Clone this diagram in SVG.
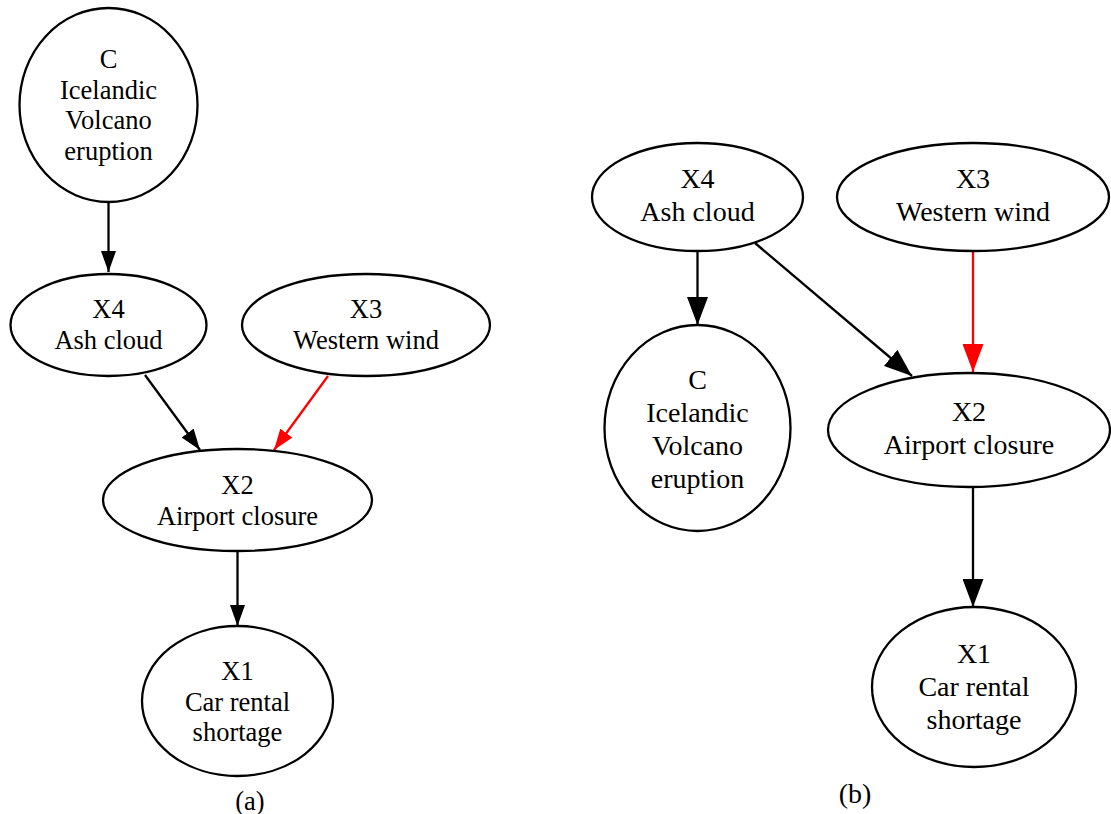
<svg xmlns="http://www.w3.org/2000/svg" width="1111" height="814" viewBox="0 0 1111 814">
<style>
.n{fill:#fff;stroke:#000;stroke-width:2.3}
.t{font-family:"Liberation Serif","Times New Roman",serif;text-anchor:middle;fill:#000}
.a{font-size:26.5px}
.b{font-size:28px}
.e{fill:none;stroke:#000;stroke-width:2.3}
.r{stroke:#ff0000}
</style>
<defs>
<marker id="ah" viewBox="0 0 10 10" refX="10" refY="5" markerWidth="21" markerHeight="15" orient="auto" markerUnits="userSpaceOnUse" preserveAspectRatio="none"><path d="M0,0L10,5L0,10z" fill="#000"/></marker>
<marker id="ahr" viewBox="0 0 10 10" refX="10" refY="5" markerWidth="21" markerHeight="15" orient="auto" markerUnits="userSpaceOnUse" preserveAspectRatio="none"><path d="M0,0L10,5L0,10z" fill="#ff0000"/></marker>
<marker id="bh" viewBox="0 0 10 10" refX="10" refY="5" markerWidth="28" markerHeight="21" orient="auto" markerUnits="userSpaceOnUse" preserveAspectRatio="none"><path d="M0,0L10,5L0,10z" fill="#000"/></marker>
<marker id="bhr" viewBox="0 0 10 10" refX="10" refY="5" markerWidth="28" markerHeight="21" orient="auto" markerUnits="userSpaceOnUse" preserveAspectRatio="none"><path d="M0,0L10,5L0,10z" fill="#ff0000"/></marker>
</defs>
<rect width="1111" height="814" fill="#fff"/>
<g id="connectors">
<line class="e" x1="108.5" y1="202" x2="108.5" y2="272" marker-end="url(#ah)"/>
<line class="e" x1="145" y1="375" x2="200" y2="450" marker-end="url(#ah)"/>
<line class="e r" x1="328" y1="376" x2="274" y2="450" marker-end="url(#ahr)"/>
<line class="e" x1="237.5" y1="551" x2="237.5" y2="626" marker-end="url(#ah)"/>
<line class="e" x1="697.5" y1="251" x2="697.5" y2="325" marker-end="url(#bh)"/>
<line class="e" x1="755" y1="243" x2="912" y2="376" marker-end="url(#bh)"/>
<line class="e r" x1="973" y1="251" x2="973" y2="372" marker-end="url(#bhr)"/>
<line class="e" x1="973" y1="487" x2="973" y2="607" marker-end="url(#bh)"/>
</g>
<g id="a-C"><ellipse class="n" cx="108.5" cy="105" rx="89" ry="97"/>
<text class="t a" x="108.5" y="68">C</text><text class="t a" x="108.5" y="98.5">Icelandic</text><text class="t a" x="108.5" y="129">Volcano</text><text class="t a" x="108.5" y="159.5">eruption</text></g>
<g id="a-X4"><ellipse class="n" cx="108.5" cy="325" rx="98" ry="51"/>
<text class="t a" x="108.5" y="318">X4</text><text class="t a" x="108.5" y="348.5">Ash cloud</text></g>
<g id="a-X3"><ellipse class="n" cx="366" cy="325" rx="124" ry="51"/>
<text class="t a" x="366" y="318">X3</text><text class="t a" x="366" y="348.5">Western wind</text></g>
<g id="a-X2"><ellipse class="n" cx="237.5" cy="500" rx="134.5" ry="51"/>
<text class="t a" x="237.5" y="494">X2</text><text class="t a" x="237.5" y="524.5">Airport closure</text></g>
<g id="a-X1"><ellipse class="n" cx="237.5" cy="701" rx="95.5" ry="75"/>
<text class="t a" x="237.5" y="680">X1</text><text class="t a" x="237.5" y="710.5">Car rental</text><text class="t a" x="237.5" y="741">shortage</text></g>
<text class="t a" x="250" y="810">(a)</text>
<g id="b-X4"><ellipse class="n" cx="697.5" cy="197" rx="105.5" ry="54"/>
<text class="t b" x="697.5" y="188">X4</text><text class="t b" x="697.5" y="221">Ash cloud</text></g>
<g id="b-X3"><ellipse class="n" cx="973" cy="197" rx="136" ry="54"/>
<text class="t b" x="973" y="188">X3</text><text class="t b" x="973" y="221">Western wind</text></g>
<g id="b-C"><ellipse class="n" cx="697.5" cy="428" rx="93" ry="103"/>
<text class="t b" x="697.5" y="389">C</text><text class="t b" x="697.5" y="422">Icelandic</text><text class="t b" x="697.5" y="455">Volcano</text><text class="t b" x="697.5" y="488">eruption</text></g>
<g id="b-X2"><ellipse class="n" cx="969" cy="430" rx="141" ry="57"/>
<text class="t b" x="969" y="421">X2</text><text class="t b" x="969" y="454">Airport closure</text></g>
<g id="b-X1"><ellipse class="n" cx="974" cy="687" rx="102" ry="80"/>
<text class="t b" x="974" y="663">X1</text><text class="t b" x="974" y="696">Car rental</text><text class="t b" x="974" y="729">shortage</text></g>
<text class="t b" x="855" y="803">(b)</text>
</svg>
